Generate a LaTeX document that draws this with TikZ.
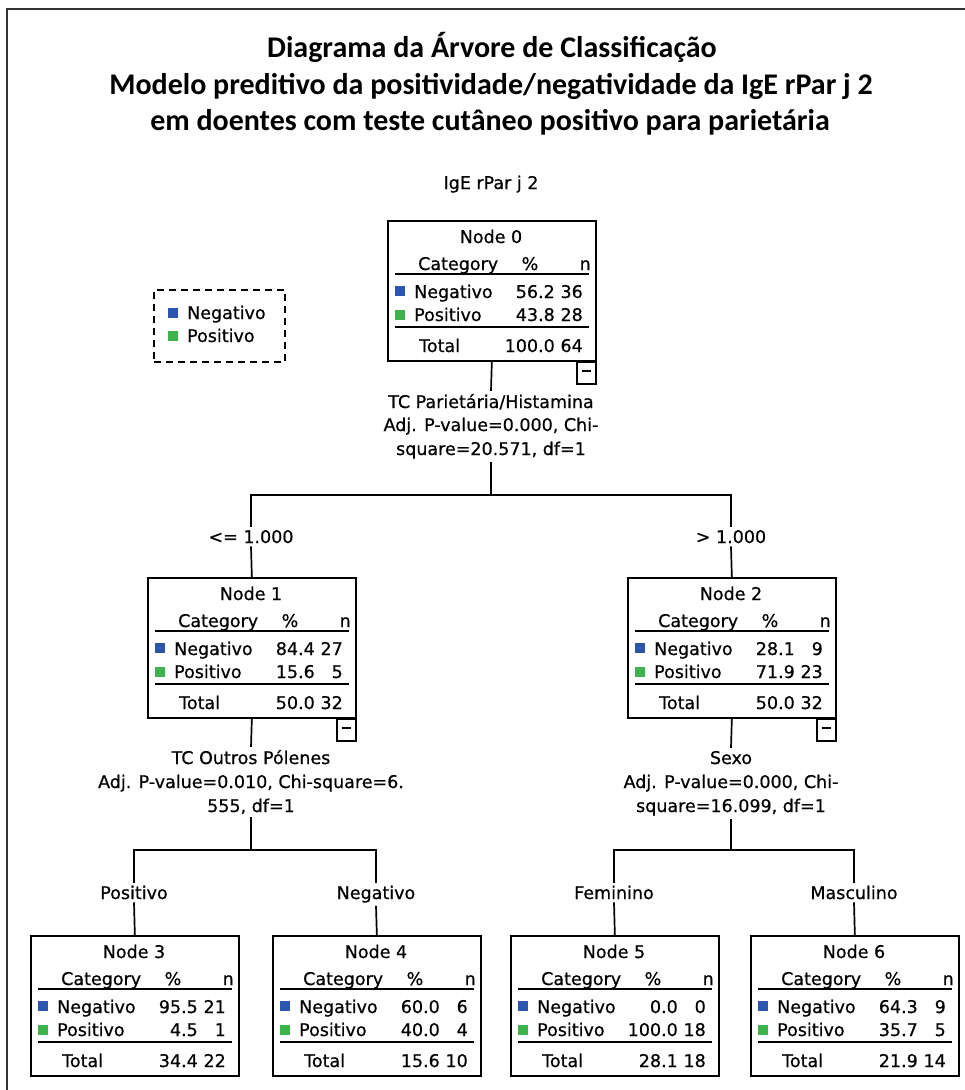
\documentclass[tikz,border=0pt]{standalone}
\usepackage{fontspec}
\setmainfont{DejaVu Sans}[UprightFeatures={FakeBold=0.6}]
\newfontfamily\titlefont{Carlito}
\definecolor{negblue}{RGB}{45,85,175}
\definecolor{posgreen}{RGB}{60,180,75}
\definecolor{framegray}{RGB}{50,50,50}
\tikzset{
  box/.style={draw, rectangle, inner sep=0pt, minimum width=208pt, minimum height=140pt, line width=1.7pt},
  minusbox/.style={draw, rectangle, inner sep=0pt, minimum width=19pt, minimum height=22pt, line width=1.7pt, fill=white},
  txt/.style={inner sep=3pt, text=black},
  rule/.style={line width=1.9pt},
  conn/.style={line width=1.7pt},
  ttl/.style={inner sep=0pt, font=\titlefont\bfseries\fontsize{30}{35}\selectfont},
}
\newcommand\treenode[9]{%
  \node[box, anchor=north west] (#1) at (#2,#3) {};
  \node[txt, anchor=base] (#1t) at (#2+104,#3+23) {Node #4};
  \node[txt, anchor=base west] (#1c) at (#2+28,#3+50) {Category};
  \node[txt, anchor=base] (#1pc) at (#2+143,#3+50) {\%};
  \node[txt, anchor=base east] (#1nc) at (#2+207,#3+50) {n};
  \draw[rule] (#2+8,#3+54) -- (#2+202,#3+54);
  \fill[negblue] (#2+8,#3+66) rectangle (#2+18,#3+76);
  \node[txt, anchor=base west] (#1neg) at (#2+24,#3+78) {Negativo};
  \node[txt, anchor=base east] (#1negp) at (#2+171,#3+78) {#5};
  \node[txt, anchor=base east] (#1negn) at (#2+199,#3+78) {#6};
  \fill[posgreen] (#2+8,#3+90) rectangle (#2+18,#3+100);
  \node[txt, anchor=base west] (#1pos) at (#2+24,#3+101) {Positivo};
  \node[txt, anchor=base east] (#1posp) at (#2+171,#3+101) {#7};
  \node[txt, anchor=base east] (#1posn) at (#2+199,#3+101) {#8};
  \draw[rule] (#2+8,#3+107) -- (#2+202,#3+107);
  \def\tntotal##1##2{%
    \node[txt, anchor=base west] (#1tot) at (#2+29,#3+132) {Total};
    \node[txt, anchor=base east] (#1totp) at (#2+171,#3+132) {##1};
    \node[txt, anchor=base east] (#1totn) at (#2+199,#3+132) {##2};
  }%
  \tntotal#9
}
\newcommand\collapse[1]{%
  \node[minusbox, anchor=north east] (#1m) at ([yshift=0.8pt]#1.south east) {\rule[3.5pt]{9pt}{1.7pt}};
}
\begin{document}
\begin{tikzpicture}[x=1pt,y=-1pt, font=\fontsize{17.5}{21}\selectfont]
\useasboundingbox (0,0) rectangle (965,1090);
% outer frame (left and top edges)
\draw[line width=2pt, framegray] (7,1090) -- (7,9) -- (965,9);

% title
\node[ttl, anchor=base] (title1) at (492,57) {Diagrama da Árvore de Classificação};
\node[ttl, anchor=base] (title2) at (491,94) {Modelo preditivo da positividade/negatividade da IgE rPar j 2};
\node[ttl, anchor=base] (title3) at (490,130) {em doentes com teste cutâneo positivo para parietária};

\node[txt, anchor=base] (target) at (491,189) {IgE rPar j 2};

% legend
\node[draw, dash pattern=on 7pt off 5pt, line width=1.7pt, rectangle, inner sep=0pt,
      minimum width=131pt, minimum height=72pt, anchor=north west] (legend) at (153,289) {};
\fill[negblue] (168,308) rectangle (178,318);
\node[txt, anchor=base west] (legneg) at (184,319) {Negativo};
\fill[posgreen] (168,331) rectangle (178,341);
\node[txt, anchor=base west] (legpos) at (184,342) {Positivo};

% nodes
\treenode{n0}{387}{220}{0}{56.2}{36}{43.8}{28}{{100.0}{64}}
\collapse{n0}
\treenode{n1}{147}{577}{1}{84.4}{27}{15.6}{5}{{50.0}{32}}
\collapse{n1}
\treenode{n2}{627}{577}{2}{28.1}{9}{71.9}{23}{{50.0}{32}}
\collapse{n2}
\treenode{n3}{30}{935}{3}{95.5}{21}{4.5}{1}{{34.4}{22}}
\treenode{n4}{272}{935}{4}{60.0}{6}{40.0}{4}{{15.6}{10}}
\treenode{n5}{510}{935}{5}{0.0}{0}{100.0}{18}{{28.1}{18}}
\treenode{n6}{750}{935}{6}{64.3}{9}{35.7}{5}{{21.9}{14}}

% split texts
\node[txt, anchor=base] (s0a) at (491,408) {TC Parietária/Histamina};
\node[txt, anchor=base] (s0b) at (491,431) {Adj. P-value=0.000, Chi-};
\node[txt, anchor=base] (s0c) at (491,455) {square=20.571, df=1};

\node[txt, anchor=base] (s1a) at (251,764) {TC Outros Pólenes};
\node[txt, anchor=base] (s1b) at (251,788) {Adj. P-value=0.010, Chi-square=6.};
\node[txt, anchor=base] (s1c) at (251,812) {555, df=1};

\node[txt, anchor=base] (s2a) at (731,764) {Sexo};
\node[txt, anchor=base] (s2b) at (731,788) {Adj. P-value=0.000, Chi-};
\node[txt, anchor=base] (s2c) at (731,812) {square=16.099, df=1};

% branch labels
\node[txt, anchor=base] (l1) at (251,543) {<= 1.000};
\node[txt, anchor=base] (l2) at (731,543) {> 1.000};
\node[txt, anchor=base] (l3) at (134,899) {Positivo};
\node[txt, anchor=base] (l4) at (376,899) {Negativo};
\node[txt, anchor=base] (l5) at (614,899) {Feminino};
\node[txt, anchor=base] (l6) at (854,899) {Masculino};

% junctions
\coordinate (j0) at (491,495);
\coordinate (j1) at (251,850);
\coordinate (j2) at (731,850);

% connectors
\draw[conn] (n0.south) -- (s0a.north);
\draw[conn] (s0c.south) -- (j0);
\draw[conn] (l1.north) |- (j0) -| (l2.north);
\draw[conn] (l1.south) -- (n1.north);
\draw[conn] (l2.south) -- (n2.north);

\draw[conn] (n1.south) -- (s1a.north);
\draw[conn] (s1c.south) -- (j1);
\draw[conn] (l3.north) |- (j1) -| (l4.north);
\draw[conn] (l3.south) -- (n3.north);
\draw[conn] (l4.south) -- (n4.north);

\draw[conn] (n2.south) -- (s2a.north);
\draw[conn] (s2c.south) -- (j2);
\draw[conn] (l5.north) |- (j2) -| (l6.north);
\draw[conn] (l5.south) -- (n5.north);
\draw[conn] (l6.south) -- (n6.north);
\end{tikzpicture}
\end{document}
